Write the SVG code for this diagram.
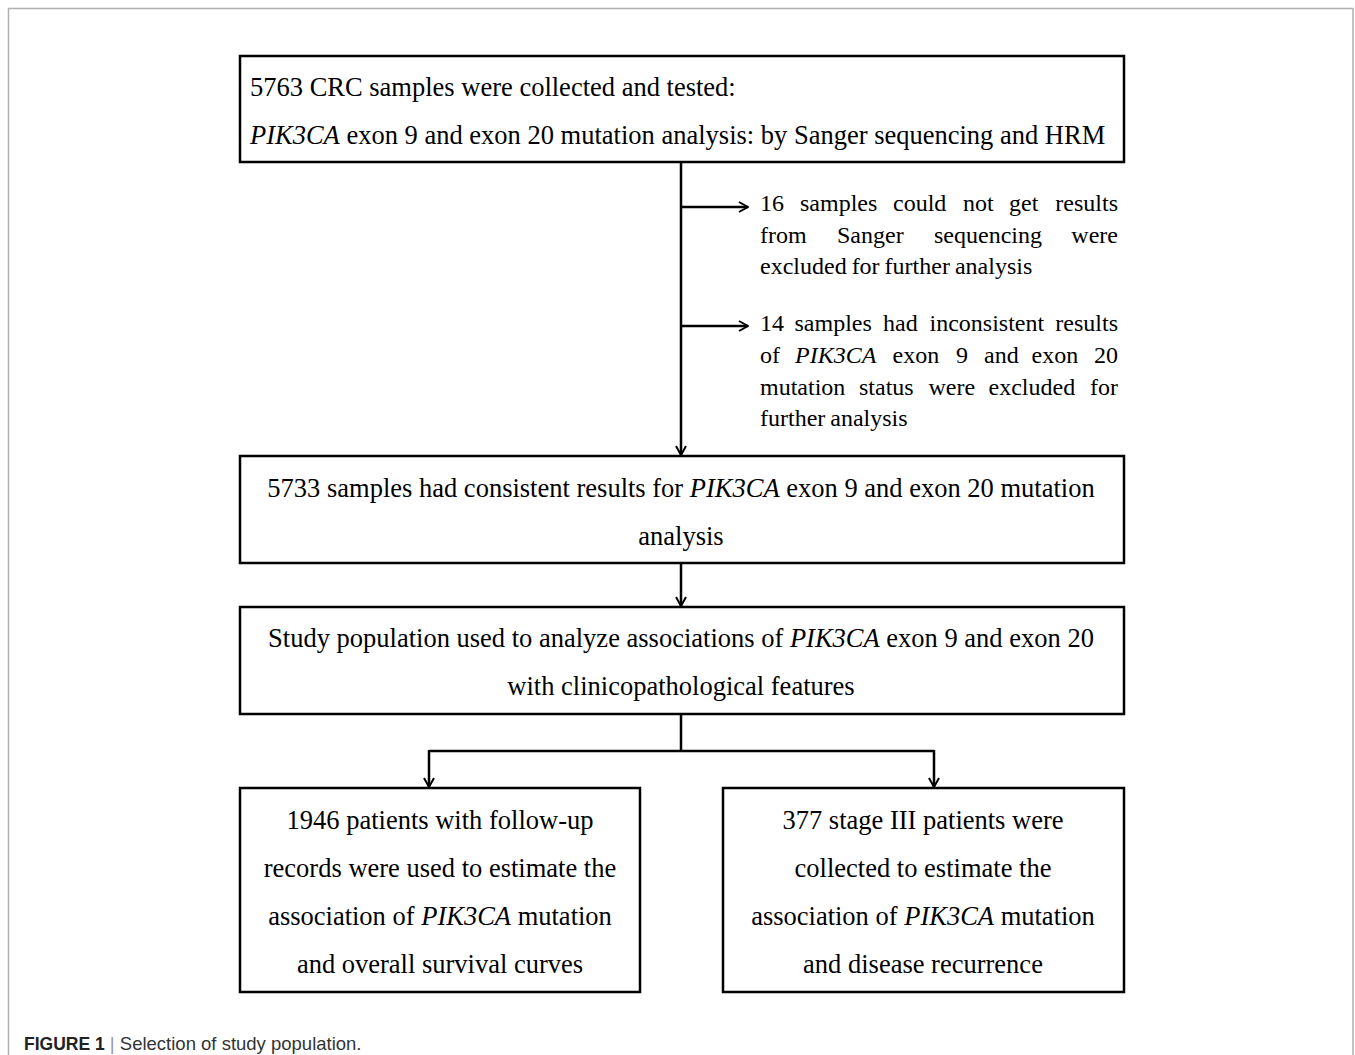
<svg xmlns="http://www.w3.org/2000/svg" width="1355" height="1055" viewBox="0 0 1355 1055">
<defs>
<style>
.box{fill:#fff;stroke:#000;stroke-width:2.5}
.t{font-family:"Liberation Serif","Times New Roman",serif;font-size:26.5px;fill:#000}
.s{font-family:"Liberation Serif","Times New Roman",serif;font-size:24px;fill:#000}
.c{text-anchor:middle}
.e{text-anchor:end}
.i{font-style:italic}
.ln{fill:none;stroke:#000;stroke-width:2.5}
.cap{font-family:"Liberation Sans",Arial,sans-serif;font-size:18.5px;fill:#333}
</style>
<marker id="ah" viewBox="0 0 12 12" refX="11" refY="6" markerWidth="12" markerHeight="12" markerUnits="userSpaceOnUse" orient="auto">
<path d="M2,1 L11,6 L2,11" fill="none" stroke="#000" stroke-width="2"/>
</marker>
</defs>
<rect width="1355" height="1055" fill="#fff"/>
<path d="M8.5,1055 V8.5 H1353 V1055" fill="none" stroke="#b0b0b0" stroke-width="1.5"/>
<g id="connectors">
<line class="ln" x1="681" y1="162" x2="681" y2="455" marker-end="url(#ah)"/>
<line class="ln" x1="681" y1="207" x2="748" y2="207" marker-end="url(#ah)"/>
<line class="ln" x1="681" y1="326" x2="748" y2="326" marker-end="url(#ah)"/>
<line class="ln" x1="681" y1="563" x2="681" y2="606" marker-end="url(#ah)"/>
<path class="ln" d="M681,714 V751"/>
<path class="ln" d="M429,751 H934"/>
<line class="ln" x1="429" y1="750" x2="429" y2="787" marker-end="url(#ah)"/>
<line class="ln" x1="934" y1="750" x2="934" y2="787" marker-end="url(#ah)"/>
</g>
<g id="n1">
<rect class="box" x="240" y="56" width="884" height="106"/>
<text class="t" x="250" y="96">5763 CRC samples were collected and tested:</text>
<text class="t" x="250" y="144"><tspan class="i">PIK3CA</tspan> exon 9 and exon 20 mutation analysis: by Sanger sequencing and HRM</text>
</g>
<g id="n_ex1">
<text class="s" y="211"><tspan x="760">16</tspan><tspan x="800">samples</tspan><tspan x="893">could</tspan><tspan x="963">not</tspan><tspan x="1009">get</tspan><tspan x="1118" class="e">results</tspan></text>
<text class="s" y="243"><tspan x="760">from</tspan><tspan x="837">Sanger</tspan><tspan x="934">sequencing</tspan><tspan x="1118" class="e">were</tspan></text>
<text class="s" x="760" y="274" word-spacing="-1">excluded for further analysis</text>
</g>
<g id="n_ex2">
<text class="s" y="331"><tspan x="760">14</tspan><tspan x="794.5">samples</tspan><tspan x="883">had</tspan><tspan x="929.5">inconsistent</tspan><tspan x="1118" class="e">results</tspan></text>
<text class="s" y="363"><tspan x="760">of</tspan><tspan x="795" class="i">PIK3CA</tspan><tspan x="892.5">exon</tspan><tspan x="956">9</tspan><tspan x="984">and</tspan><tspan x="1031.5">exon</tspan><tspan x="1118" class="e">20</tspan></text>
<text class="s" y="395"><tspan x="760">mutation</tspan><tspan x="859">status</tspan><tspan x="928.5">were</tspan><tspan x="988.5">excluded</tspan><tspan x="1118" class="e">for</tspan></text>
<text class="s" x="760" y="426" word-spacing="-1">further analysis</text>
</g>
<g id="n2">
<rect class="box" x="240" y="456" width="884" height="107"/>
<text class="t c" x="681" y="497">5733 samples had consistent results for <tspan class="i">PIK3CA</tspan> exon 9 and exon 20 mutation</text>
<text class="t c" x="681" y="545">analysis</text>
</g>
<g id="n3">
<rect class="box" x="240" y="607" width="884" height="107"/>
<text class="t c" x="681" y="647">Study population used to analyze associations of <tspan class="i">PIK3CA</tspan> exon 9 and exon 20</text>
<text class="t c" x="681" y="695">with clinicopathological features</text>
</g>
<g id="n4">
<rect class="box" x="240" y="788" width="400" height="204"/>
<text class="t c" x="440" y="829">1946 patients with follow-up</text>
<text class="t c" x="440" y="877">records were used to estimate the</text>
<text class="t c" x="440" y="925">association of <tspan class="i">PIK3CA</tspan> mutation</text>
<text class="t c" x="440" y="973">and overall survival curves</text>
</g>
<g id="n5">
<rect class="box" x="723" y="788" width="401" height="204"/>
<text class="t c" x="923" y="829">377 stage III patients were</text>
<text class="t c" x="923" y="877">collected to estimate the</text>
<text class="t c" x="923" y="925">association of <tspan class="i">PIK3CA</tspan> mutation</text>
<text class="t c" x="923" y="973">and disease recurrence</text>
</g>
<text class="cap" x="24" y="1050"><tspan font-weight="bold" fill="#222" font-size="17.5">FIGURE 1</tspan><tspan fill="#999"> | </tspan>Selection of study population.</text>
</svg>
